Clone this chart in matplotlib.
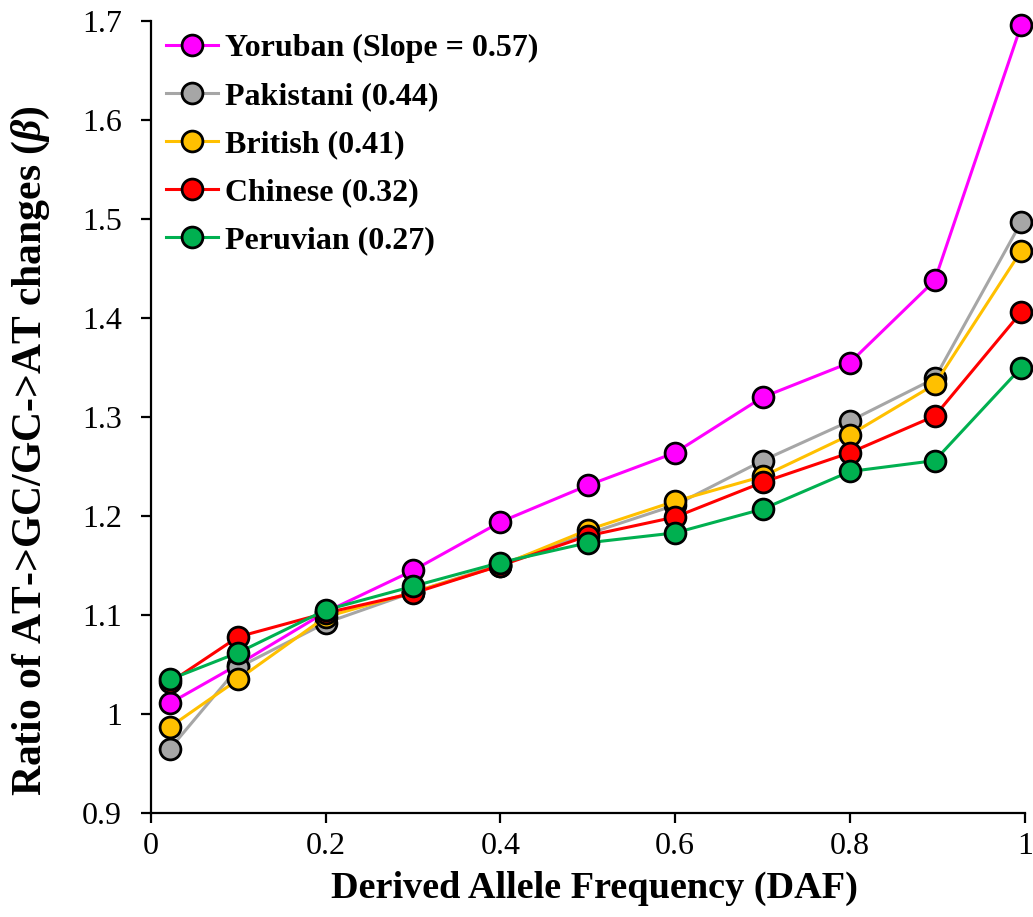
import matplotlib
matplotlib.use("Agg")
import matplotlib.pyplot as plt

daf = [0.022, 0.1, 0.2, 0.3, 0.4, 0.5, 0.6, 0.7, 0.8, 0.897, 0.996]

series_names = ["Yoruban (Slope = 0.57)", "Pakistani (0.44)", "British (0.41)",
                "Chinese (0.32)", "Peruvian (0.27)"]
yoruban   = [1.011, 1.050, 1.103, 1.145, 1.194, 1.231, 1.264, 1.320, 1.355, 1.438, 1.696]
pakistani = [0.965, 1.047, 1.092, 1.123, 1.151, 1.182, 1.211, 1.256, 1.296, 1.339, 1.497]
british   = [0.987, 1.035, 1.098, 1.123, 1.150, 1.186, 1.215, 1.240, 1.282, 1.333, 1.468]
chinese   = [1.032, 1.078, 1.102, 1.122, 1.150, 1.180, 1.199, 1.234, 1.264, 1.301, 1.406]
peruvian  = [1.035, 1.062, 1.105, 1.129, 1.153, 1.173, 1.183, 1.207, 1.245, 1.256, 1.350]
colors = ["#FF00FF", "#A6A6A6", "#FFC000", "#FF0000", "#00B050"]

x_ticks = [0, 0.2, 0.4, 0.6, 0.8, 1]
x_tick_labels = ["0", "0.2", "0.4", "0.6", "0.8", "1"]
y_ticks = [0.9, 1.0, 1.1, 1.2, 1.3, 1.4, 1.5, 1.6, 1.7]
y_tick_labels = ["0.9", "1", "1.1", "1.2", "1.3", "1.4", "1.5", "1.6", "1.7"]

plt.rcParams['font.family'] = ['Liberation Serif', 'DejaVu Serif']
plt.rcParams['mathtext.fontset'] = 'custom'
plt.rcParams['mathtext.it'] = 'Liberation Serif:italic:bold'
plt.rcParams['mathtext.rm'] = 'Liberation Serif:bold'

fig = plt.figure(figsize=(10.33, 9.17), dpi=100)
ax = fig.add_axes([0.146, 0.1134, 0.846, 0.8636])

for name, ys, c in zip(series_names, [yoruban, pakistani, british, chinese, peruvian], colors):
    ax.plot(daf, ys, color=c, lw=2.2, marker='o', markersize=15,
            markerfacecolor=c, markeredgecolor='black', markeredgewidth=2.0,
            label=name, clip_on=False)

ax.set_xlim(0, 1)
ax.set_ylim(0.9, 1.7)
ax.set_xticks(x_ticks)
ax.set_xticklabels(x_tick_labels)
ax.set_yticks(y_ticks)
ax.set_yticklabels(y_tick_labels)
ax.tick_params(axis='both', labelsize=23, width=1.6, length=7, direction='out')
ax.tick_params(axis='x', pad=7)
ax.tick_params(axis='y', pad=14)
for s in ['top', 'right']:
    ax.spines[s].set_visible(False)
for s in ['left', 'bottom']:
    ax.spines[s].set_linewidth(1.6)

ax.set_xlabel("Derived Allele Frequency (DAF)", fontsize=27.5, fontweight='bold')
ax.xaxis.set_label_coords(0.508, -0.0732)
ax.xaxis.label.set_verticalalignment('top')
ax.set_ylabel(r"Ratio of AT->GC/GC->AT changes ($\mathit{\beta}$)", fontsize=30,
              fontweight='bold')
ax.yaxis.set_label_coords(-0.113, 0.458)

leg = ax.legend(loc='upper left', frameon=False, prop={'weight': 'bold', 'size': 23},
                handlelength=1.63, handletextpad=0.2, labelspacing=0.58,
                borderaxespad=0.0, bbox_to_anchor=(0.003, 1.0))

fig.savefig("out.png", dpi=100)
